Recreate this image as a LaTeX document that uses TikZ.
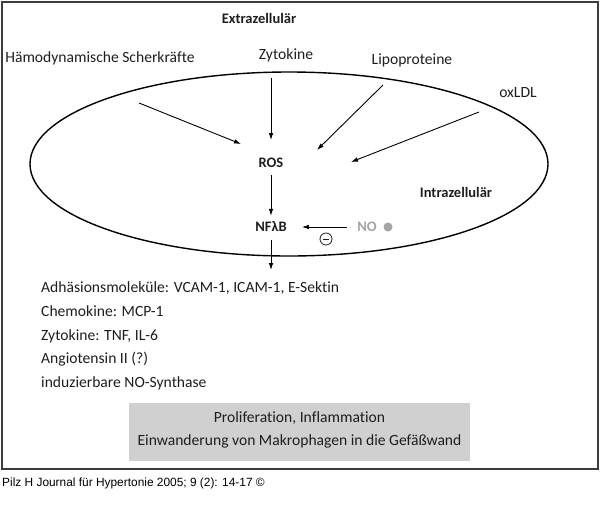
\documentclass[tikz,border=0pt]{standalone}
\usepackage{fontspec}
\setmainfont{Carlito}[Ligatures={NoCommon}]
\newfontfamily\capfont{Liberation Sans}
\usetikzlibrary{arrows.meta}
\definecolor{framegray}{HTML}{3C3C3C}
\definecolor{boxgray}{HTML}{D0D0D0}
\definecolor{nogray}{HTML}{A4A4A4}
\definecolor{txt}{HTML}{1E1E1E}
\tikzset{
  lbl/.style={inner sep=0pt, text=txt, font=\fontsize{15.6}{18}\selectfont},
  blbl/.style={inner sep=0pt, text=txt, font=\fontsize{14.5}{16}\selectfont\bfseries},
  listitem/.style={lbl, anchor=base west},
  arr/.style={line width=0.9pt, -{Latex[length=7pt,width=4.6pt]}},
}
\begin{document}
\begin{tikzpicture}[x=1pt,y=-1pt]
\useasboundingbox (0,0) rectangle (600,531);
% frame
\draw[framegray, line width=1.5pt] (2,2) rectangle (598,469);
% cell
\draw[line width=1.4pt] (289,164) ellipse [x radius=259, y radius=92];
% labels
\node[blbl] (ext) at (259,18) {Extrazellulär};
\node[lbl] (haem) at (100,58) {Hämodynamische Scherkräfte};
\node[lbl] (zyt) at (286,55) {Zytokine};
\node[lbl] (lipo) at (412,60) {Lipoproteine};
\node[lbl] (ox) at (518,93) {oxLDL};
\node[blbl] (ros) at (271,163) {ROS};
\node[blbl] (intra) at (456,192) {Intrazellulär};
\node[blbl] (nfb) at (271,227) {NFλB};
\node[blbl, text=nogray] (no) at (367,227) {NO};
\node[circle, fill=nogray, minimum size=9pt, inner sep=0pt] (dot) at (388,227) {};
\node[circle, draw=txt, line width=0.8pt, minimum size=12pt, inner sep=0pt] (minus) at (326,239) {};
\draw[txt, line width=0.8pt] ([xshift=-3pt]minus.center) -- ([xshift=3pt]minus.center);
% arrow end points
\coordinate (hS) at (139,103); \coordinate (hE) at (241,144);
\coordinate (zS) at (271,78);  \coordinate (zE) at (271,140);
\coordinate (lS) at (383,85);  \coordinate (lE) at (317,150);
\coordinate (oS) at (479,112); \coordinate (oE) at (351,162);
\coordinate (dE) at (271,270);
\draw[arr] (hS) -- (hE);
\draw[arr] (zS) -- (zE);
\draw[arr] (lS) -- (lE);
\draw[arr] (oS) -- (oE);
\draw[arr, shorten <=7pt, shorten >=6pt] (ros) -- (nfb);
\draw[arr, shorten <=10pt, shorten >=15pt] (no) -- (nfb);
\draw[arr, shorten <=8pt] (nfb) -- (dE);
% list
\node[listitem] (l1) at (41,292) {Adhäsionsmoleküle: VCAM-1, ICAM-1, E-Sektin};
\node[listitem] (l2) at (41,316) {Chemokine: MCP-1};
\node[listitem] (l3) at (41,340) {Zytokine: TNF, IL-6};
\node[listitem] (l4) at (41,363) {Angiotensin II (?)};
\node[listitem] (l5) at (41,387) {induzierbare NO-Synthase};
% result box
\node[fill=boxgray, minimum width=341pt, minimum height=58pt, inner sep=0pt] (box) at (299.5,432) {};
\node[lbl] (r1) at (299.5,418) {Proliferation, Inflammation};
\node[lbl] (r2) at (299.5,441) {Einwanderung von Makrophagen in die Gefäßwand};
% caption
\node[inner sep=0pt, anchor=base west, font=\capfont\fontsize{11.9}{14}\selectfont, text=black] (cap) at (2,486.5) {Pilz H Journal für Hypertonie 2005; 9 (2): 14-17 ©};
\end{tikzpicture}
\end{document}
